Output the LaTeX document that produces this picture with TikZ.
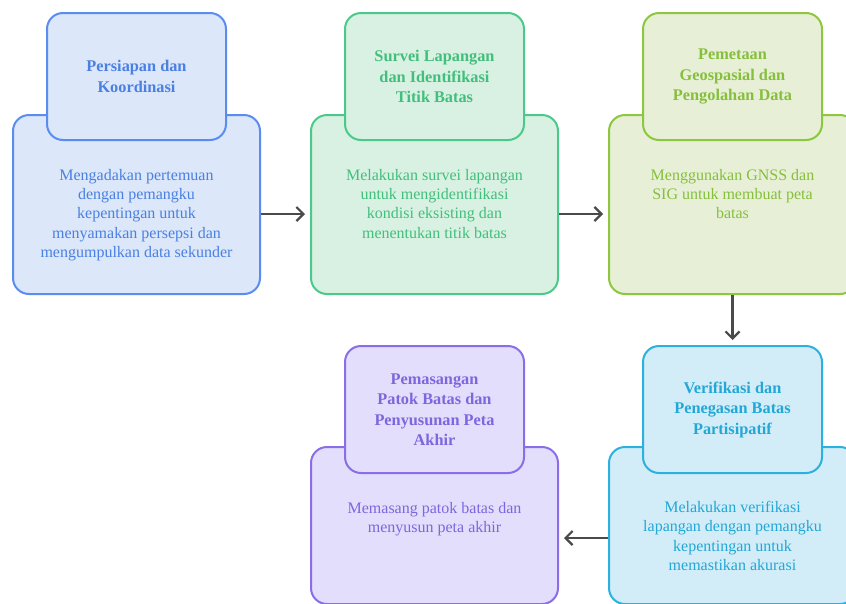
\documentclass[tikz,border=0pt]{standalone}
\usepackage{fontspec}
\setmainfont{Liberation Serif}
\usetikzlibrary{arrows.meta}
\definecolor{bB}{HTML}{5B8DEF}\definecolor{bF}{HTML}{DCE7F9}\definecolor{bT}{HTML}{4A80E2}
\definecolor{gB}{HTML}{4CC98A}\definecolor{gF}{HTML}{D8F1E3}\definecolor{gT}{HTML}{42BF7C}
\definecolor{lB}{HTML}{8DC63F}\definecolor{lF}{HTML}{E7F0D6}\definecolor{lT}{HTML}{86BF3C}
\definecolor{cB}{HTML}{2BB1DE}\definecolor{cF}{HTML}{D3EDF8}\definecolor{cT}{HTML}{22A7D6}
\definecolor{pB}{HTML}{8A6EE8}\definecolor{pF}{HTML}{E3DEFB}\definecolor{pT}{HTML}{7E66DE}
\definecolor{arr}{HTML}{4A4A4A}
\tikzset{
  bigbox/.style={draw=#1B, fill=#1F, line width=2pt, rounded corners=16pt,
    minimum width=247pt, minimum height=179pt, inner sep=0pt},
  bigboxlow/.style={bigbox=#1, minimum height=157pt},
  titlebox/.style={draw=#1B, fill=#1F, line width=2pt, rounded corners=16pt,
    minimum width=179pt, minimum height=127pt, inner sep=0pt, text=#1T,
    align=center, font=\fontsize{16.3}{20.5}\selectfont\bfseries},
  bodytext/.style={text=#1T, align=center, anchor=north, inner sep=0pt,
    font=\fontsize{16}{19.3}\selectfont},
  flow/.style={draw=arr, line width=2.2pt, shorten >=5pt,
    -{Straight Barb[length=7pt,width=14pt,line width=2.2pt]}}
}
\begin{document}
\begin{tikzpicture}[x=1pt,y=-1pt]
\useasboundingbox (0,0) rectangle (846,603);
\clip (0,0) rectangle (846,603);
% row 1
\node[bigbox=b] (b1) at (136.5,204.5) {};
\node[titlebox=b] (t1) at (136.5,76.5) {Persiapan dan\\Koordinasi};
\node[bodytext=b] (x1) at (136.5,169) {Mengadakan pertemuan\\dengan pemangku\\kepentingan untuk\\menyamakan persepsi dan\\mengumpulkan data sekunder};
\node[bigbox=g] (b2) at (434.5,204.5) {};
\node[titlebox=g] (t2) at (434.5,76.5) {Survei Lapangan\\dan Identifikasi\\Titik Batas};
\node[bodytext=g] (x2) at (434.5,169) {Melakukan survei lapangan\\untuk mengidentifikasi\\kondisi eksisting dan\\menentukan titik batas};
\node[bigbox=l] (b3) at (732.5,204.5) {};
\node[titlebox=l] (t3) at (732.5,76.5) {Pemetaan\\Geospasial dan\\Pengolahan Data};
\node[bodytext=l] (x3) at (732.5,169) {Menggunakan GNSS dan\\SIG untuk membuat peta\\batas};
% row 2
\node[bigboxlow=c] (b4) at (732.5,525.5) {};
\node[titlebox=c] (t4) at (732.5,409.5) {Verifikasi dan\\Penegasan Batas\\Partisipatif};
\node[bodytext=c] (x4) at (732.5,501) {Melakukan verifikasi\\lapangan dengan pemangku\\kepentingan untuk\\memastikan akurasi};
\node[bigboxlow=p] (b5) at (434.5,525.5) {};
\node[titlebox=p] (t5) at (434.5,409.5) {Pemasangan\\Patok Batas dan\\Penyusunan Peta\\Akhir};
\node[bodytext=p] (x5) at (434.5,502) {Memasang patok batas dan\\menyusun peta akhir};
% arrows
\draw[flow] (b1.east |- 0,214) -- (b2.west |- 0,214);
\draw[flow] (b2.east |- 0,214) -- (b3.west |- 0,214);
\draw[flow] (b3.south) -- (t4.north);
\draw[flow] (b4.west |- 0,538) -- (b5.east |- 0,538);
\end{tikzpicture}
\end{document}
